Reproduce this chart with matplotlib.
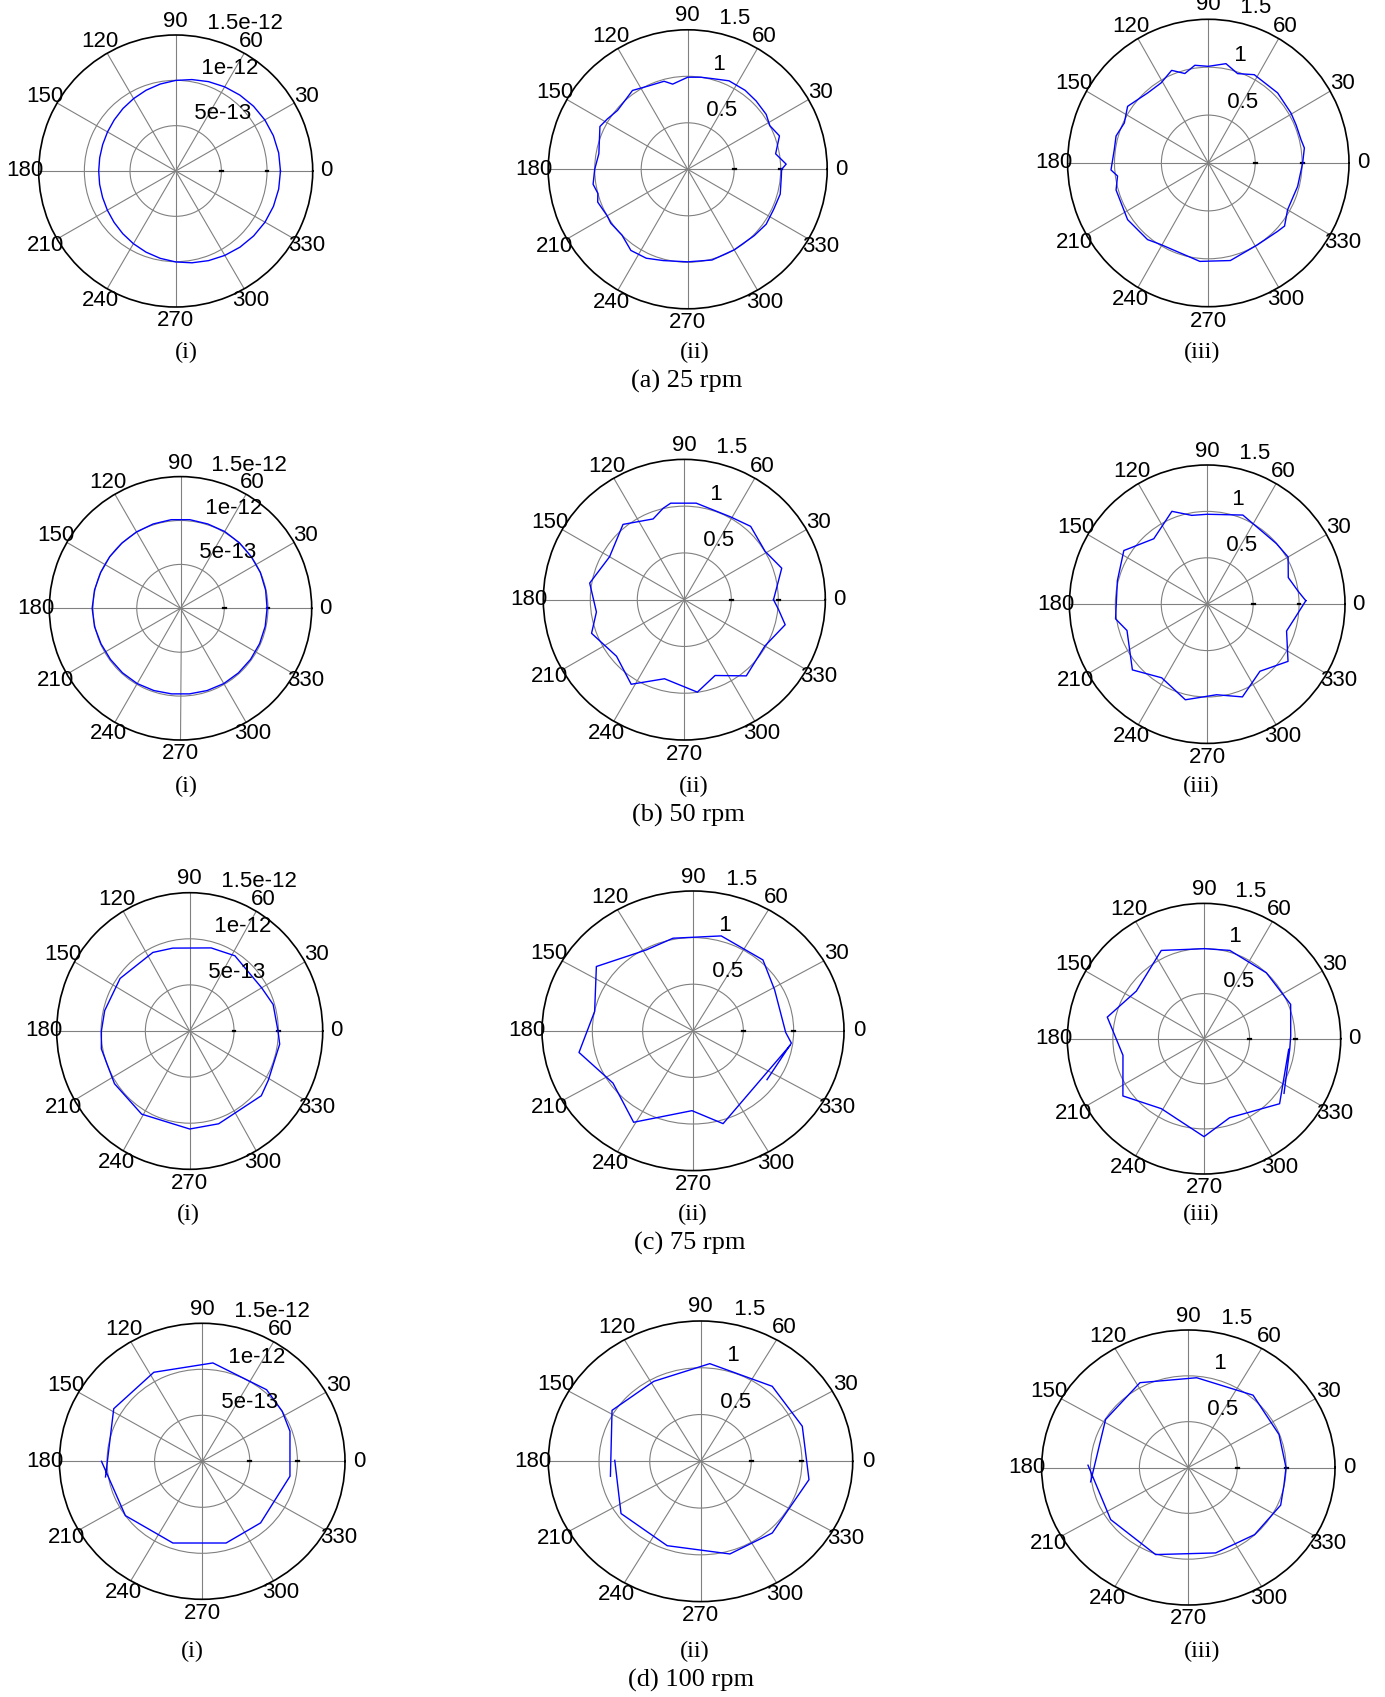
import numpy as np
import matplotlib.pyplot as plt

# radial distributions, angles in degrees; (i) panels are in units of 1e-12
ang_a1 = list(range(0, 370, 10))
r_a1 = [1.147, 1.145, 1.138, 1.127, 1.112, 1.093, 1.072, 1.049, 1.024, 0.999,
        0.974, 0.948, 0.922, 0.899, 0.878, 0.862, 0.851, 0.845, 0.843, 0.846,
        0.852, 0.864, 0.881, 0.902, 0.926, 0.952, 0.978, 1.003, 1.028, 1.052,
        1.075, 1.096, 1.114, 1.129, 1.139, 1.145, 1.147]

ang_a2 = [0, 3, 10, 20, 28, 35, 45, 54, 65, 75, 82, 90, 100, 105, 115, 125, 140, 148, 154,
          170, 180, 189, 195, 200, 210, 215, 225, 235, 245, 255, 270, 285, 300, 315, 325,
          335, 345, 355, 360]
r_a2 = [1.01, 1.06, 0.96, 1.05, 1.00, 1.03, 1.04, 1.05, 1.05, 1.01, 1.00, 0.99, 0.93, 0.98,
        0.99, 1.035, 0.985, 1.02, 1.05, 0.97, 1.00, 1.03, 1.00, 1.03, 1.00, 1.01, 1.00, 1.065,
        1.055, 1.016, 0.995, 1.01, 1.00, 1.01, 1.03, 1.02, 1.03, 1.01, 1.01]

ang_a3 = [0, 8.7, 13.9, 23, 30.6, 44.7, 62, 71.5, 79.7, 90, 98, 105, 112, 121, 131.5, 145.5,
          155, 164, 172, 184, 188, 196, 214.5, 231, 239, 265, 283, 301, 316, 321, 330, 345.6, 360]
r_a3 = [1.006, 1.036, 1.018, 1.017, 1.024, 1.04, 1.044, 0.984, 1.054, 1.009, 1.03, 0.967,
        1.043, 0.976, 0.976, 1.044, 0.988, 1.023, 1.012, 1.04, 0.977, 1.023, 1.044, 1.029,
        0.991, 1.031, 1.045, 1.002, 1.027, 1.046, 0.976, 0.983, 1.006]

ang_b1 = [0, 12, 24, 36, 48, 60, 72, 84, 96, 108, 120, 132, 144, 156, 168, 180,
          192, 204, 216, 228, 240, 252, 264, 276, 288, 300, 312, 324, 336, 348, 360]
r_b1 = [0.99, 0.995, 1.0, 1.0, 1.005, 1.01, 1.01, 1.015, 1.015, 1.01, 1.005, 1.0, 1.0,
        1.0, 1.005, 1.01, 1.005, 0.995, 0.99, 0.99, 0.99, 0.985, 0.98, 0.98, 0.985,
        0.99, 0.99, 0.99, 0.99, 0.99, 0.99]

ang_b2 = [0, 8, 18, 31, 48, 61, 83, 98, 103, 111, 129, 150, 170, 188, 200, 220, 238, 256,
          278, 292, 309, 330, 346, 354, 360]
r_b2 = [0.949, 0.995, 1.09, 1.003, 1.055, 1.013, 1.04, 1.042, 1.003, 0.925, 1.036, 0.918,
        1.022, 0.944, 1.05, 0.941, 1.066, 0.871, 0.998, 0.874, 1.048, 0.99, 1.106, 1.008, 0.949]

ang_b3 = [2, 8, 18, 30, 41, 68, 90, 100, 111, 129.5, 147.5, 165.5, 189, 198, 221, 238, 257,
          276, 291, 308.5, 325, 341.5, 351, 362]
r_b3 = [1.074, 1.0, 0.928, 1.017, 0.997, 1.036, 0.969, 0.972, 1.072, 0.914, 1.076, 1.01,
        1.01, 0.918, 1.079, 0.935, 1.057, 0.981, 1.07, 0.923, 1.074, 0.911, 0.965, 1.074]

ang_c1 = [0, 17, 30, 58, 75, 102, 116, 144, 167, 180, 191, 214, 239, 270, 288, 319, 329, 352, 360]
r_c1 = [0.996, 0.984, 0.937, 0.962, 0.933, 0.919, 0.948, 0.97, 0.984, 0.996, 1.015, 1.023,
        1.052, 1.063, 1.058, 1.07, 1.035, 1.025, 0.996]

ang_c2 = [324.5, 352.3, 358.9, 28.4, 47.6, 74.6, 101.3, 118.1, 144.3, 168, 191.6, 215.2,
          239, 269.3, 286.7, 350.5]
r_c2 = [0.903, 0.986, 0.921, 0.922, 1.03, 1.056, 1.013, 0.984, 1.182, 0.999, 1.156, 0.973,
        1.145, 0.857, 1.04, 0.974]

ang_c3 = [325.4, 352.8, 1.8, 21.8, 46.9, 73.9, 89.6, 115.6, 144.6, 167.3, 191.7, 215.5,
          238.9, 270, 287.8, 319, 352.8]
r_c3 = [1.067, 0.948, 0.952, 1.024, 1.001, 1.019, 0.998, 1.085, 0.911, 1.088, 0.908, 1.093,
        0.906, 1.086, 0.92, 1.099, 0.937]

ang_d1 = [180, 216.2, 250.9, 285.8, 312.5, 350, 19.5, 32.9, 49, 84, 117.7, 148.4, 189.5]
r_d1 = [1.058, 1.0, 0.94, 0.923, 0.908, 0.936, 0.978, 1.001, 1.031, 1.075, 1.093, 1.091, 1.03]

ang_d2 = [179.3, 215.5, 250, 286.3, 312.7, 349.6, 20.5, 48.6, 85, 118.3, 148, 190.2]
r_d2 = [0.845, 0.962, 0.96, 1.032, 1.043, 1.087, 1.071, 1.069, 1.048, 0.971, 1.028, 0.902]

ang_d3 = [178.6, 215.6, 250.6, 286.7, 312.8, 336.5, 348.8, 0, 21.2, 50, 85, 118.1, 148.2, 188.9]
r_d3 = [1.026, 0.976, 1.007, 0.973, 0.998, 1.03, 0.997, 0.999, 0.995, 1.03, 0.983, 1.049,
        0.995, 1.011]

sub_labels = ['(i)', '(ii)', '(iii)']
row_labels = ['(a) 25 rpm', '(b) 50 rpm', '(c) 75 rpm', '(d) 100 rpm']

W, H = 1385, 1697
fig = plt.figure(figsize=(W / 100, H / 100), dpi=100)
sans = ['Liberation Sans', 'DejaVu Sans']
serif = ['Liberation Serif', 'DejaVu Serif']
LABEL_FS = 16


def polar_panel(cx, cy, rx, ry, ang, r, scale):
    ax = fig.add_axes([(cx - rx) / W, (H - cy - ry) / H, 2 * rx / W, 2 * ry / H],
                      projection='polar')
    ax.set_aspect('auto')
    rmax = 1.5 * scale
    ax.set_ylim(0, rmax)
    ax.set_xticks(np.deg2rad(np.arange(0, 360, 30)))
    ax.set_yticks([0.5 * scale, 1.0 * scale])
    ax.set_xticklabels([])
    ax.set_yticklabels([])
    ax.tick_params(length=0)
    ax.grid(True, color='0.5', lw=0.8)
    ax.spines['polar'].set_color('k')
    ax.spines['polar'].set_linewidth(1.2)

    # angle labels just outside the rim
    for a in range(0, 360, 30):
        ax.text(np.deg2rad(a), 1.1 * rmax, str(a), ha='center', va='center',
                fontsize=LABEL_FS, family=sans)
    # radial labels along 82 degrees
    if scale == 1:
        rl = ['0.5', '1', '1.5']
    else:
        rl = ['5e-13', '1e-12', '1.5e-12']
    for k, lab in enumerate(rl):
        rv = (k + 1) * 0.5 * scale
        ax.text(np.deg2rad(82), rv + 0.025 * scale, '  ' + lab, ha='left', va='bottom',
                fontsize=LABEL_FS, family=sans)
    # small ticks on the zero axis
    for rv in (0.5, 1.0):
        ax.plot([0, 0], [(rv - 0.015) * scale, (rv + 0.015) * scale], color='k', lw=1.6)

    ax.plot(np.deg2rad(ang), np.asarray(r) * scale, color='#0000ff', lw=1.0)
    return ax


panels = [
    (175.7, 171.0, 137.0, 136.0, ang_a1, r_a1, 1e-12),
    (687.7, 169.3, 139.5, 139.5, ang_a2, r_a2, 1),
    (1208.3, 163.0, 140.7, 143.7, ang_a3, r_a3, 1),
    (180.5, 608.3, 131.2, 131.7, ang_b1, r_b1, 1e-12),
    (684.3, 599.7, 141.0, 140.3, ang_b2, r_b2, 1),
    (1207.2, 604.2, 137.8, 139.2, ang_b3, r_b3, 1),
    (189.7, 1031.0, 133.0, 138.3, ang_c1, r_c1, 1e-12),
    (693.0, 1030.8, 151.0, 139.8, ang_c2, r_c2, 1),
    (1204.0, 1038.7, 136.7, 135.3, ang_c3, r_c3, 1),
    (202.2, 1461.3, 142.8, 138.0, ang_d1, r_d1, 1e-12),
    (700.5, 1461.3, 152.2, 140.3, ang_d2, r_d2, 1),
    (1188.3, 1467.5, 146.7, 137.5, ang_d3, r_d3, 1),
]
for p in panels:
    polar_panel(*p)

sub_x = [[186, 695, 1201.7], [186, 693.6, 1201], [188.3, 693, 1201], [192.7, 695, 1201.7]]
sub_y = [352, 786, 1214, 1651]
row_x = [687, 688, 690, 691]
row_y = [381, 815, 1243, 1680]
for i in range(4):
    for j in range(3):
        fig.text(sub_x[i][j] / W, 1 - sub_y[i] / H, sub_labels[j], ha='center', va='center',
                 fontsize=17.5, family=serif)
    fig.text(row_x[i] / W, 1 - row_y[i] / H, row_labels[i], ha='center', va='center',
             fontsize=19, family=serif)

fig.savefig('out.png', dpi=100)
